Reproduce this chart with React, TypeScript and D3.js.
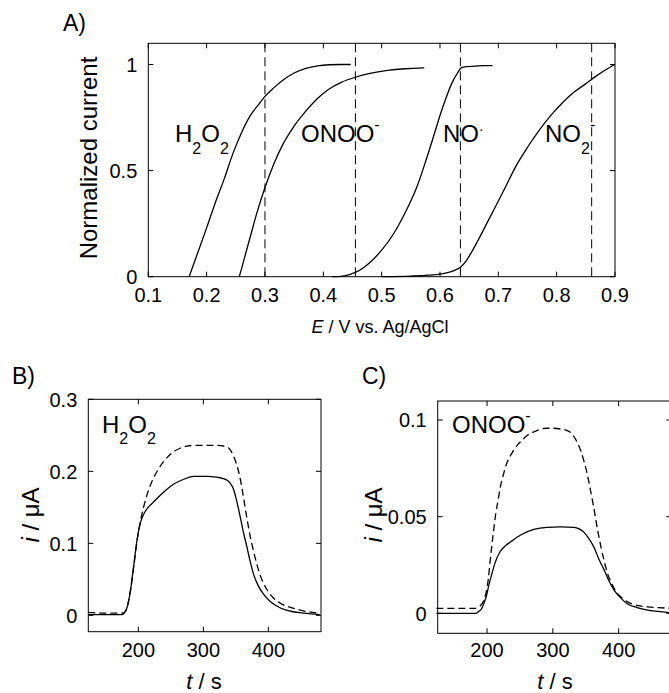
import React from "react";
import * as d3 from "d3";

// ---------- Panel A data ----------
const potentialTicks = [0.1, 0.2, 0.3, 0.4, 0.5, 0.6, 0.7, 0.8, 0.9];
const potentialTickLabels = ["0.1", "0.2", "0.3", "0.4", "0.5", "0.6", "0.7", "0.8", "0.9"];
const normTicks = [0, 0.5, 1];
const normTickLabels = ["0", "0.5", "1"];
const dashedPotentials = [0.3, 0.455, 0.635, 0.86];

const h2o2E = [0.17, 0.185, 0.2, 0.215, 0.23, 0.245, 0.26, 0.275, 0.29, 0.3, 0.315, 0.33, 0.35, 0.37, 0.39, 0.41, 0.43, 0.447];
const h2o2I = [0, 0.115, 0.23, 0.35, 0.46, 0.58, 0.68, 0.76, 0.815, 0.85, 0.89, 0.925, 0.96, 0.982, 0.994, 0.999, 1.0, 1.0];

const onooE = [0.256, 0.265, 0.275, 0.285, 0.3, 0.315, 0.33, 0.35, 0.37, 0.39, 0.41, 0.43, 0.455, 0.48, 0.51, 0.54, 0.573];
const onooI = [0, 0.09, 0.19, 0.29, 0.42, 0.53, 0.62, 0.71, 0.78, 0.84, 0.885, 0.915, 0.94, 0.958, 0.972, 0.98, 0.984];

const noE = [0.415, 0.43, 0.445, 0.455, 0.47, 0.485, 0.5, 0.52, 0.54, 0.56, 0.575, 0.59, 0.6, 0.61, 0.62, 0.63, 0.637, 0.645, 0.66, 0.675, 0.69];
const noI = [0, 0.002, 0.01, 0.02, 0.045, 0.08, 0.125, 0.2, 0.3, 0.42, 0.54, 0.67, 0.76, 0.84, 0.91, 0.96, 0.985, 0.99, 0.992, 0.995, 0.995];

const no2E = [0.5, 0.55, 0.58, 0.6, 0.615, 0.625, 0.635, 0.645, 0.655, 0.665, 0.68, 0.695, 0.71, 0.73, 0.75, 0.77, 0.79, 0.81, 0.83, 0.85, 0.87, 0.89, 0.9];
const no2I = [0, 0.003, 0.007, 0.012, 0.02, 0.03, 0.045, 0.075, 0.12, 0.17, 0.25, 0.33, 0.41, 0.52, 0.61, 0.69, 0.76, 0.82, 0.87, 0.91, 0.95, 0.985, 1.0];

// ---------- Panel B data (H2O2) ----------
const timeTicks = [200, 300, 400];
const timeTickLabels = ["200", "300", "400"];
const bTicks = [0, 0.1, 0.2, 0.3];
const bTickLabels = ["0", "0.1", "0.2", "0.3"];

const bSolidT = [123, 150, 174, 178, 183, 188, 193, 198, 203, 208, 215, 223, 233, 244, 254, 270, 285, 305, 320, 336, 341, 346, 351, 356, 361, 367, 372, 377, 384, 392, 402, 413, 425, 438, 455, 479];
const bSolidI = [0.001, 0.001, 0.001, 0.003, 0.012, 0.035, 0.07, 0.105, 0.128, 0.14, 0.15, 0.157, 0.166, 0.175, 0.182, 0.189, 0.193, 0.193, 0.192, 0.188, 0.184, 0.176, 0.16, 0.14, 0.118, 0.095, 0.075, 0.058, 0.042, 0.03, 0.02, 0.013, 0.008, 0.005, 0.003, 0.001];

const bDashT = [123, 150, 176, 181, 187, 193, 198, 203, 208, 215, 223, 233, 244, 254, 264, 275, 285, 300, 320, 336, 341, 346, 351, 356, 361, 367, 372, 377, 382, 387, 397, 408, 420, 438, 455, 479];
const bDashI = [0.004, 0.003, 0.003, 0.007, 0.03, 0.068, 0.103, 0.13, 0.15, 0.172, 0.19, 0.206, 0.219, 0.227, 0.232, 0.235, 0.236, 0.236, 0.236, 0.234, 0.23, 0.222, 0.21, 0.193, 0.168, 0.135, 0.11, 0.09, 0.072, 0.057, 0.037, 0.024, 0.016, 0.01, 0.006, 0.003];

// ---------- Panel C data (ONOO-) ----------
const cTicks = [0, 0.05, 0.1];
const cTickLabels = ["0", "0.05", "0.1"];

const cSolidT = [123, 150, 183, 187, 191, 195, 199, 203, 207, 212, 220, 228, 236, 251, 271, 291, 312, 332, 340, 347, 354, 362, 370, 378, 385, 393, 403, 413, 428, 444, 460, 479];
const cSolidI = [0, 0, 0, 0.001, 0.002, 0.005, 0.009, 0.015, 0.02, 0.026, 0.032, 0.035, 0.037, 0.0405, 0.0434, 0.0445, 0.0447, 0.0445, 0.0437, 0.042, 0.039, 0.0345, 0.028, 0.0224, 0.017, 0.012, 0.008, 0.005, 0.003, 0.0017, 0.001, 0.0003];

const cDashT = [123, 150, 180, 186, 190, 194, 198, 202, 205, 209, 213, 217, 220, 225, 230, 238, 246, 254, 261, 271, 281, 291, 302, 312, 322, 327, 332, 337, 342, 347, 352, 357, 362, 367, 373, 378, 383, 390, 398, 408, 418, 430, 444, 460, 479];
const cDashI = [0.0026, 0.0026, 0.0026, 0.003, 0.004, 0.006, 0.01, 0.018, 0.028, 0.04, 0.051, 0.059, 0.065, 0.072, 0.0776, 0.083, 0.087, 0.0898, 0.092, 0.0938, 0.0952, 0.0957, 0.0957, 0.0953, 0.0945, 0.0935, 0.0914, 0.0885, 0.0845, 0.079, 0.0724, 0.064, 0.055, 0.045, 0.0345, 0.027, 0.0207, 0.015, 0.0103, 0.0072, 0.0052, 0.004, 0.0034, 0.003, 0.0026];

const FONT = "'Liberation Sans', Arial, Helvetica, sans-serif";
const TICK = 5;

type Scale = d3.ScaleLinear<number, number>;

function pathOf(xs: number[], ys: number[], x: Scale, y: Scale) {
  const pts: [number, number][] = xs.map((v, i) => [v, ys[i]]);
  return (
    d3
      .line<[number, number]>()
      .x((d) => x(d[0]))
      .y((d) => y(d[1]))
      .curve(d3.curveMonotoneX)(pts) || ""
  );
}

function Frame(props: {
  x: Scale;
  y: Scale;
  xTicks: number[];
  xLabels: string[];
  yTicks: number[];
  yLabels: string[];
  xLabelY: number;
}) {
  const { x, y, xTicks, xLabels, yTicks, yLabels, xLabelY } = props;
  const [x0, x1] = x.range();
  const [y0, y1] = y.range(); // y0 bottom, y1 top
  return (
    <g>
      <rect x={x0} y={y1} width={x1 - x0} height={y0 - y1} fill="none" stroke="#000" strokeWidth={1} />
      {xTicks.map((t, i) => (
        <g key={"xt" + i}>
          <line x1={x(t)} x2={x(t)} y1={y0} y2={y0 - TICK} stroke="#000" />
          <line x1={x(t)} x2={x(t)} y1={y1} y2={y1 + TICK} stroke="#000" />
          <text x={x(t)} y={xLabelY} textAnchor="middle" fontSize={20}>
            {xLabels[i]}
          </text>
        </g>
      ))}
      {yTicks.map((t, i) => (
        <g key={"yt" + i}>
          <line x1={x0} x2={x0 + TICK} y1={y(t)} y2={y(t)} stroke="#000" />
          <line x1={x1} x2={x1 - TICK} y1={y(t)} y2={y(t)} stroke="#000" />
          <text x={x0 - 11} y={y(t)} dy="0.36em" textAnchor="end" fontSize={20}>
            {yLabels[i]}
          </text>
        </g>
      ))}
    </g>
  );
}

export default function App() {
  // Panel A
  const xA = d3.scaleLinear().domain([0.1, 0.9]).range([148.3, 615]);
  const yA = d3.scaleLinear().domain([0, 1.1]).range([276.7, 43.3]);
  // Panel B
  const xB = d3.scaleLinear().domain([123, 481]).range([88.3, 321]);
  const yB = d3.scaleLinear().domain([-0.0227, 0.3]).range([631.7, 399.3]);
  // Panel C
  const xC = d3.scaleLinear().domain([125, 480]).range([437.7, 671.3]);
  const yC = d3.scaleLinear().domain([-0.0103, 0.1098]).range([633.3, 401]);

  const curveStyle = { fill: "none", stroke: "#000", strokeWidth: 1.3 };

  return (
    <svg
      width={669}
      height={693}
      style={{ position: "absolute", left: 0, top: 0, background: "#fff" }}
      fontFamily={FONT}
    >
      <rect x={0} y={0} width={669} height={693} fill="#fff" />

      {/* Panel A */}
      <text x={63} y={31} fontSize={23}>A)</text>
      {dashedPotentials.map((e, i) => (
        <line key={"dl" + i} x1={xA(e)} x2={xA(e)} y1={yA(1.1)} y2={yA(0)} stroke="#000" strokeWidth={1} strokeDasharray="9,5" />
      ))}
      <Frame x={xA} y={yA} xTicks={potentialTicks} xLabels={potentialTickLabels} yTicks={normTicks} yLabels={normTickLabels} xLabelY={302} />
      <path d={pathOf(h2o2E, h2o2I, xA, yA)} {...curveStyle} />
      <path d={pathOf(onooE, onooI, xA, yA)} {...curveStyle} />
      <path d={pathOf(noE, noI, xA, yA)} {...curveStyle} />
      <path d={pathOf(no2E, no2I, xA, yA)} {...curveStyle} />

      <text x={175} y={141.7} fontSize={24}>
        H<tspan dy={12} fontSize={16}>2</tspan>
        <tspan dy={-12}>O</tspan>
        <tspan dy={12} fontSize={16}>2</tspan>
      </text>
      <text x={301} y={141.7} fontSize={24}>
        ONOO<tspan dy={-12} fontSize={16}>-</tspan>
      </text>
      <text x={443} y={141.7} fontSize={24}>
        NO<tspan dy={-8} fontSize={14}>·</tspan>
      </text>
      <text x={545} y={141.7} fontSize={24}>
        NO<tspan dy={12} fontSize={16}>2</tspan>
        <tspan dy={-24} fontSize={16}>-</tspan>
      </text>

      <text x={380} y={333} textAnchor="middle" fontSize={18}>
        <tspan fontStyle="italic">E</tspan> / V vs. Ag/AgCl
      </text>
      <text transform="translate(97,158) rotate(-90)" textAnchor="middle" fontSize={24}>
        Normalized current
      </text>

      {/* Panel B */}
      <text x={12} y={384} fontSize={23}>B)</text>
      <Frame x={xB} y={yB} xTicks={timeTicks} xLabels={timeTickLabels} yTicks={bTicks} yLabels={bTickLabels} xLabelY={657} />
      <path d={pathOf(bDashT, bDashI, xB, yB)} {...curveStyle} strokeDasharray="7,4" />
      <path d={pathOf(bSolidT, bSolidI, xB, yB)} {...curveStyle} />
      <text x={102} y={432.7} fontSize={24}>
        H<tspan dy={11} fontSize={16}>2</tspan>
        <tspan dy={-11}>O</tspan>
        <tspan dy={11} fontSize={16}>2</tspan>
      </text>
      <text x={204} y={689} textAnchor="middle" fontSize={22}>
        <tspan fontStyle="italic">t</tspan> / s
      </text>
      <text transform="translate(39,515) rotate(-90)" textAnchor="middle" fontSize={24}>
        <tspan fontStyle="italic">i</tspan> / μA
      </text>

      {/* Panel C */}
      <text x={362} y={384} fontSize={23}>C)</text>
      <Frame x={xC} y={yC} xTicks={timeTicks} xLabels={timeTickLabels} yTicks={cTicks} yLabels={cTickLabels} xLabelY={657} />
      <path d={pathOf(cDashT, cDashI, xC, yC)} {...curveStyle} strokeDasharray="7,4" />
      <path d={pathOf(cSolidT, cSolidI, xC, yC)} {...curveStyle} />
      <text x={452} y={432.7} fontSize={24}>
        ONOO<tspan dy={-12} fontSize={16}>-</tspan>
      </text>
      <text x={555} y={689} textAnchor="middle" fontSize={22}>
        <tspan fontStyle="italic">t</tspan> / s
      </text>
      <text transform="translate(382,515) rotate(-90)" textAnchor="middle" fontSize={24}>
        <tspan fontStyle="italic">i</tspan> / μA
      </text>
    </svg>
  );
}
